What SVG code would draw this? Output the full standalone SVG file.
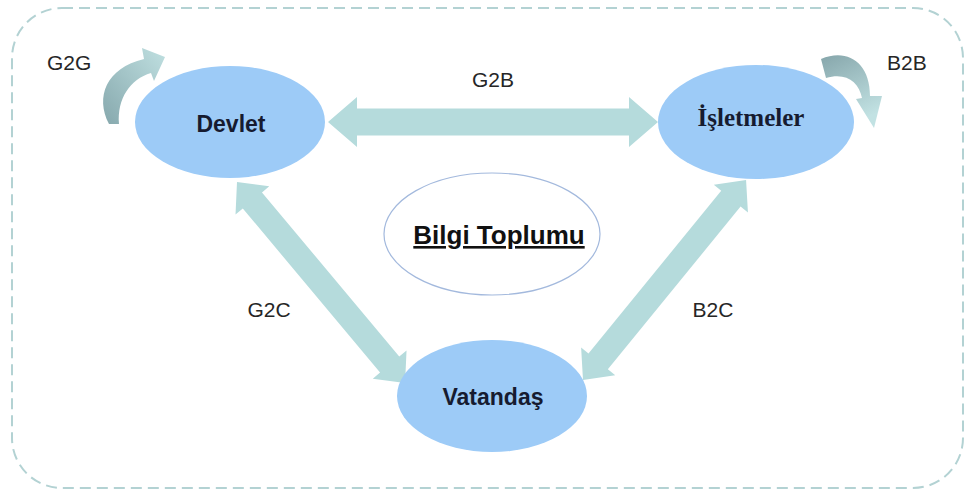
<svg xmlns="http://www.w3.org/2000/svg" width="967" height="492" viewBox="0 0 967 492">
  <defs>
    <style>
      .node { fill: #9dcbf7; stroke: none; }
      .ntext { font-family: "Liberation Sans", Arial, sans-serif; font-weight: bold; fill: #161b30; text-anchor: middle; }
      .label { font-family: "Liberation Sans", Arial, sans-serif; font-size: 21px; fill: #262626; }
      .conn { fill: #b5dbdc; stroke: none; }
    </style>
    <linearGradient id="g2gGrad" x1="0" y1="1" x2="1" y2="0">
      <stop offset="0" stop-color="#86a8ad"/>
      <stop offset="1" stop-color="#c0e0e1"/>
    </linearGradient>
    <linearGradient id="b2bGrad" x1="0" y1="0" x2="0.4" y2="1">
      <stop offset="0" stop-color="#86a6ab"/>
      <stop offset="1" stop-color="#c2e2e3"/>
    </linearGradient>
  </defs>
  <rect x="0" y="0" width="967" height="492" fill="#ffffff"/>
  <rect id="frame" x="12" y="8" width="951" height="480" rx="50" ry="50" fill="none" stroke="#b3d2d3" stroke-width="2" stroke-dasharray="11 6"/>

  <g id="connectors">
    <polygon id="g2b" class="conn" transform="translate(328,122)" points="0,0 29,-25 29,-13.5 301,-13.5 301,-25 330,0 301,25 301,13.5 29,13.5 29,25"/>
    <polygon id="g2c" class="conn" transform="translate(237,182) rotate(50.1)" points="0,0 24,-22 24,-12.5 238,-12.5 238,-22 262,0 238,22 238,12.5 24,12.5 24,22"/>
    <polygon id="b2c" class="conn" transform="translate(583,380) rotate(-50.8)" points="0,0 24,-22 24,-12.5 234,-12.5 234,-22 258,0 234,22 234,12.5 24,12.5 24,22"/>
    <path id="g2g" fill="url(#g2gGrad)" d="M 109 124 C 95 97, 106 68, 144 59 L 142 48 L 165 57 L 154 81 L 151 73 C 130 79, 117 99, 119 124 Z"/>
    <path id="b2b" fill="url(#b2bGrad)" d="M 821 59 C 847 48, 870 62, 870 96 L 882 96 L 874 128 L 856 99 L 862 98 C 859 82, 846 72, 826 78 Z"/>
    <text class="label" x="47" y="70">G2G</text>
    <text class="label" x="887" y="70">B2B</text>
    <text class="label" x="493" y="87" text-anchor="middle">G2B</text>
    <text class="label" x="269" y="317" text-anchor="middle">G2C</text>
    <text class="label" x="713" y="317" text-anchor="middle">B2C</text>
  </g>

  <g id="devlet">
    <ellipse class="node" cx="230" cy="122" rx="95" ry="56"/>
    <text class="ntext" x="231" y="132" font-size="23">Devlet</text>
  </g>
  <g id="isletmeler">
    <ellipse class="node" cx="756" cy="122" rx="98" ry="57"/>
    <text x="751" y="126" font-family="'Liberation Serif', 'Times New Roman', serif" font-weight="bold" font-size="25" fill="#161b30" text-anchor="middle">İşletmeler</text>
  </g>
  <g id="vatandas">
    <ellipse class="node" cx="492" cy="396" rx="95" ry="56"/>
    <text class="ntext" x="493" y="405" font-size="23">Vatandaş</text>
  </g>
  <g id="bilgi-toplumu">
    <ellipse cx="492" cy="234" rx="108" ry="61" fill="#ffffff" stroke="#a3b9dd" stroke-width="1.2"/>
    <text x="499" y="244" font-family="'Liberation Sans', Arial, sans-serif" font-weight="bold" font-size="26" fill="#111111" text-anchor="middle" text-decoration="underline">Bilgi Toplumu</text>
  </g>
</svg>
